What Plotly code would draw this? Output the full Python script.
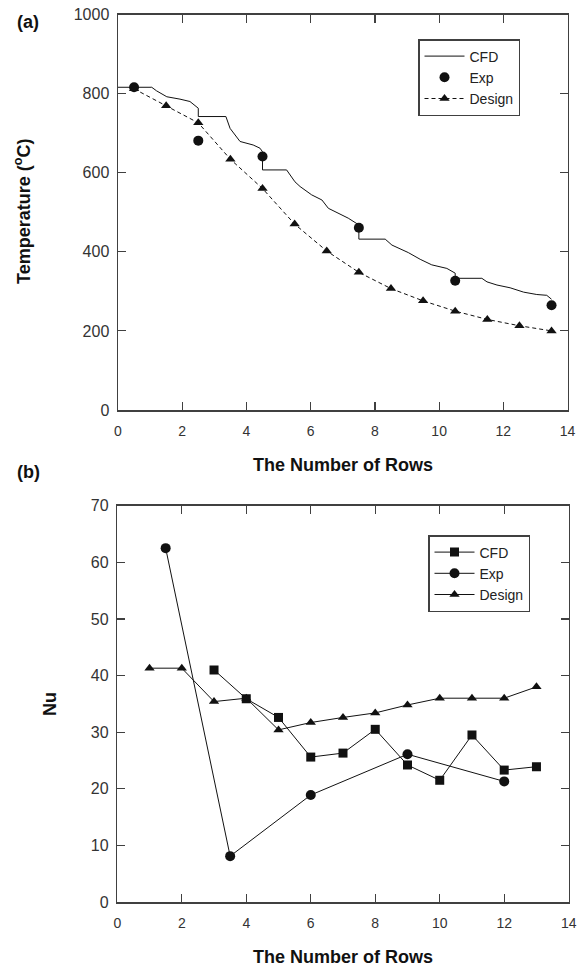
import plotly.graph_objects as go

W, H = 584, 968

# ---------- (a) Temperature vs rows ----------
cfd_a_x = [0, 1.05, 1.2, 1.52, 1.93, 2.24, 2.5, 2.5, 3.36, 3.49, 3.8, 4.21, 4.42, 4.5, 4.5,
           5.25, 5.51, 5.67, 6.03, 6.35, 6.55, 6.86, 7.17, 7.5, 7.5, 8.32, 8.53, 9.04, 9.41,
           9.77, 10.24, 10.5, 10.5, 11.33, 11.49, 11.8, 12.21, 12.63, 13.04, 13.35, 13.5]
cfd_a_y = [816, 816, 807, 792, 786, 780, 763, 742, 742, 712, 679, 670, 662, 653, 607,
           607, 577, 565, 544, 531, 510, 497, 485, 468, 432, 432, 417, 398, 381,
           367, 358, 346, 333, 333, 324, 316, 309, 298, 292, 290, 280]
exp_a_x = [0.5, 2.5, 4.5, 7.5, 10.5, 13.5]
exp_a_y = [816, 681, 641, 461, 327, 265]
design_a_x = [0.5, 1.5, 2.5, 3.5, 4.5, 5.5, 6.5, 7.5, 8.5, 9.5, 10.5, 11.5, 12.5, 13.5]
design_a_y = [812, 769, 726, 634, 560, 470, 402, 348, 307, 276, 250, 229, 213, 200]

# ---------- (b) Nu vs rows ----------
cfd_b_x = [3, 4, 5, 6, 7, 8, 9, 10, 11, 12, 13]
cfd_b_y = [41.0, 35.9, 32.6, 25.6, 26.3, 30.5, 24.2, 21.5, 29.5, 23.3, 23.9]
exp_b_x = [1.5, 3.5, 6, 9, 12]
exp_b_y = [62.5, 8.1, 18.9, 26.1, 21.3]
design_b_x = [1, 2, 3, 4, 5, 6, 7, 8, 9, 10, 11, 12, 13]
design_b_y = [41.3, 41.3, 35.4, 36.0, 30.4, 31.7, 32.6, 33.4, 34.8, 36.0, 36.0, 36.0, 38.0]

FONT = "Arial, 'Liberation Sans', sans-serif"
AX = "#404040"
INK = "#111111"

fig = go.Figure()

fig.add_trace(go.Scatter(x=cfd_a_x, y=cfd_a_y, mode="lines", name="CFD",
                         line=dict(color=INK, width=1), xaxis="x", yaxis="y", legend="legend"))
fig.add_trace(go.Scatter(x=exp_a_x, y=exp_a_y, mode="markers", name="Exp",
                         marker=dict(symbol="circle", size=10, color=INK),
                         xaxis="x", yaxis="y", legend="legend"))
fig.add_trace(go.Scatter(x=design_a_x, y=design_a_y, mode="lines+markers", name="Design",
                         line=dict(color=INK, width=1, dash="4px,3px"),
                         marker=dict(symbol="triangle-up", size=9, color=INK),
                         xaxis="x", yaxis="y", legend="legend"))

fig.add_trace(go.Scatter(x=cfd_b_x, y=cfd_b_y, mode="lines+markers", name="CFD",
                         line=dict(color=INK, width=1),
                         marker=dict(symbol="square", size=9, color=INK),
                         xaxis="x2", yaxis="y2", legend="legend2"))
fig.add_trace(go.Scatter(x=exp_b_x, y=exp_b_y, mode="lines+markers", name="Exp",
                         line=dict(color=INK, width=1),
                         marker=dict(symbol="circle", size=10, color=INK),
                         xaxis="x2", yaxis="y2", legend="legend2"))
fig.add_trace(go.Scatter(x=design_b_x, y=design_b_y, mode="lines+markers", name="Design",
                         line=dict(color=INK, width=1),
                         marker=dict(symbol="triangle-up", size=9, color=INK),
                         xaxis="x2", yaxis="y2", legend="legend2"))


def px(xp):
    return xp / W


def py(yp):
    return 1 - yp / H


common = dict(showline=True, linecolor=AX, linewidth=1.5, mirror="ticks", ticks="inside",
              ticklen=8, tickwidth=1.2, tickcolor=AX, showgrid=False, zeroline=False,
              fixedrange=True, automargin=False)
xcommon = dict(range=[0, 14], dtick=2, ticklabelstandoff=8,
               tickfont=dict(size=14, color="#333333"), **common)
ycommon = dict(ticklabelstandoff=4, tickfont=dict(size=16, color="#333333"), **common)

legend_common = dict(xanchor="left", yanchor="top", bgcolor="white", bordercolor=AX,
                     borderwidth=1.5, font=dict(size=14, color="#222222"),
                     tracegroupgap=0, itemwidth=40)

fig.update_layout(
    width=W, height=H, autosize=False,
    margin=dict(l=0, r=0, t=0, b=0, pad=0),
    paper_bgcolor="white", plot_bgcolor="white",
    font=dict(family=FONT, color="#222222"),
    xaxis=dict(domain=[px(118), px(567.6)], anchor="y", **xcommon),
    yaxis=dict(domain=[py(410), py(14.5)], range=[0, 1000], dtick=200, anchor="x", **ycommon),
    xaxis2=dict(domain=[px(117.3), px(568.7)], anchor="y2", **xcommon),
    yaxis2=dict(domain=[py(902), py(505.7)], range=[0, 70], dtick=10, anchor="x2", **ycommon),
    legend=dict(x=px(418), y=py(39), **legend_common),
    legend2=dict(x=px(428), y=py(535), **legend_common),
    showlegend=True,
)

ann_font = dict(family=FONT, size=18, color="#111111")
annots = [
    dict(text="<b>Temperature (<sup>o</sup>C)</b>", x=px(22), y=py(212), textangle=-90),
    dict(text="<b>The Number of Rows</b>", x=px(343), y=py(465)),
    dict(text="<b>Nu</b>", x=px(50), y=py(704), textangle=-90),
    dict(text="<b>The Number of Rows</b>", x=px(343), y=py(957)),
    dict(text="<b>(a)</b>", x=px(28), y=py(22)),
    dict(text="<b>(b)</b>", x=px(28), y=py(472)),
]
for a in annots:
    fig.add_annotation(xref="paper", yref="paper", xanchor="center", yanchor="middle",
                       showarrow=False, font=ann_font, **a)

# the page's default 8px body margin would shift the fixed-size figure
fig.write_html("out.html", config={"displayModeBar": False, "staticPlot": True},
               post_script="document.body.style.margin='0';document.body.style.overflow='hidden';")
